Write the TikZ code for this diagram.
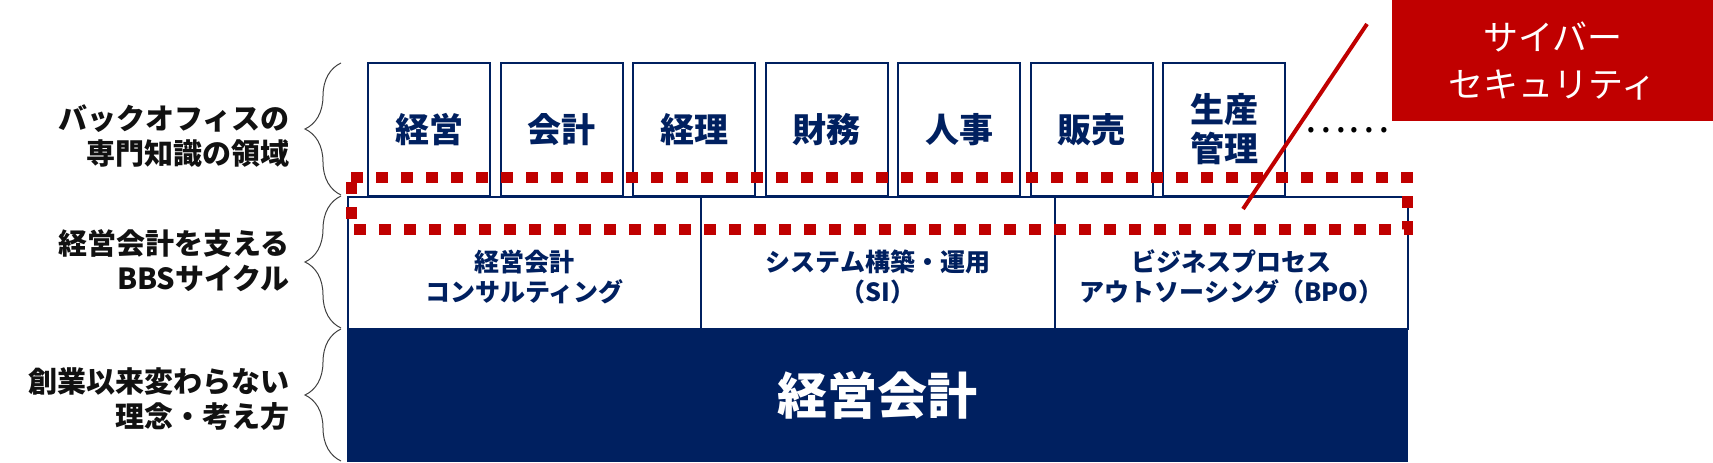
\documentclass[tikz,border=0pt]{standalone}
\usepackage{fontspec}
\setmainfont{Noto Sans CJK JP}
\usetikzlibrary{decorations.pathreplacing}
\definecolor{navy}{HTML}{002060}
\definecolor{cred}{HTML}{C00000}
\definecolor{lblcol}{HTML}{111111}
\begin{document}
\begin{tikzpicture}[x=1pt,y=-1pt,
  topbox/.style={draw=navy,line width=2pt,fill=white,anchor=north west,minimum width=122pt,minimum height=133pt,inner sep=0pt,
    text=navy,font=\fontsize{34}{40}\selectfont\bfseries,align=center},
  midbox/.style={draw=navy,line width=2pt,fill=white,anchor=north west,minimum width=353.4pt,minimum height=132pt,inner sep=0pt},
  midtext/.style={text=navy,font=\fontsize{25}{30}\selectfont\bfseries,align=center,inner sep=0pt},
  lbl/.style={text=lblcol,font=\fontsize{29}{35}\selectfont\bfseries,align=right,anchor=east,inner sep=0pt},
  bracestyle/.style={draw=black!75,line width=1pt,decorate,decoration={brace,amplitude=36pt}},
  dotline/.style={draw=cred,line width=11pt,dash pattern=on 12pt off 13pt},
]
\useasboundingbox (0,0) rectangle (1713,463);
% left labels
\node[lbl] (l1) at (290,136) {バックオフィスの\\専門知識の領域};
\node[lbl] (l2) at (290,261) {経営会計を支える\\BBSサイクル};
\node[lbl] (l3) at (290,399.5) {創業以来変わらない\\理念・考え方};
% braces
\coordinate (b1s) at (341,195); \coordinate (b1e) at (341,63);
\coordinate (b2s) at (341,328); \coordinate (b2e) at (341,196);
\coordinate (b3s) at (341,461); \coordinate (b3e) at (341,329);
\draw[bracestyle] (b1s) -- (b1e);
\draw[bracestyle] (b2s) -- (b2e);
\draw[bracestyle] (b3s) -- (b3e);
% top boxes
\node[topbox] (t1) at (367,62) {経営};
\node[topbox] (t2) at (499.5,62) {会計};
\node[topbox] (t3) at (632,62) {経理};
\node[topbox] (t4) at (764.5,62) {財務};
\node[topbox] (t5) at (897,62) {人事};
\node[topbox] (t6) at (1029.5,62) {販売};
\node[topbox,font=\fontsize{34}{39}\selectfont\bfseries] (t7) at (1162,62) {生産\\管理};
\node[font=\fontsize{40}{40}\selectfont,text=black,inner sep=0pt] (dots) at (1347,130) {……};
% middle row
\node[midbox] (m1) at (347,196) {};
\node[midbox] (m2) at (700.4,196) {};
\node[midbox] (m3) at (1053.8,196) {};
\node[midtext] (m1t) at ([yshift=-14pt]m1.center) {経営会計\\コンサルティング};
\node[midtext] (m2t) at ([yshift=-14pt]m2.center) {システム構築・運用\\（SI）};
\node[midtext] (m3t) at ([yshift=-14pt]m3.center) {ビジネスプロセス\\アウトソーシング（BPO）};
% navy bar
\node[fill=navy,draw=navy,line width=1pt,anchor=north west,minimum width=1060pt,minimum height=133pt,inner sep=0pt,
  text=white,font=\fontsize{50}{50}\selectfont\bfseries] (base) at (347,328) {経営会計};
% dotted rectangle
\coordinate (d1) at (351,177); \coordinate (d2) at (1407,177);
\coordinate (d3) at (1407,229.5); \coordinate (d4) at (351,229.5);
\draw[dotline] (d1) -- (d2) -- (d3) -- (d4) -- cycle;
% red callout
\node[fill=cred,anchor=north west,minimum width=321pt,minimum height=121pt,inner sep=0pt,
  text=white,font=\fontsize{35}{47}\selectfont,align=center] (cyber) at (1392,0) {サイバー\\セキュリティ};
\coordinate (c1) at (1367,24); \coordinate (c2) at (1243,209);
\draw[cred,line width=4pt] (c1) -- (c2);
\end{tikzpicture}
\end{document}
